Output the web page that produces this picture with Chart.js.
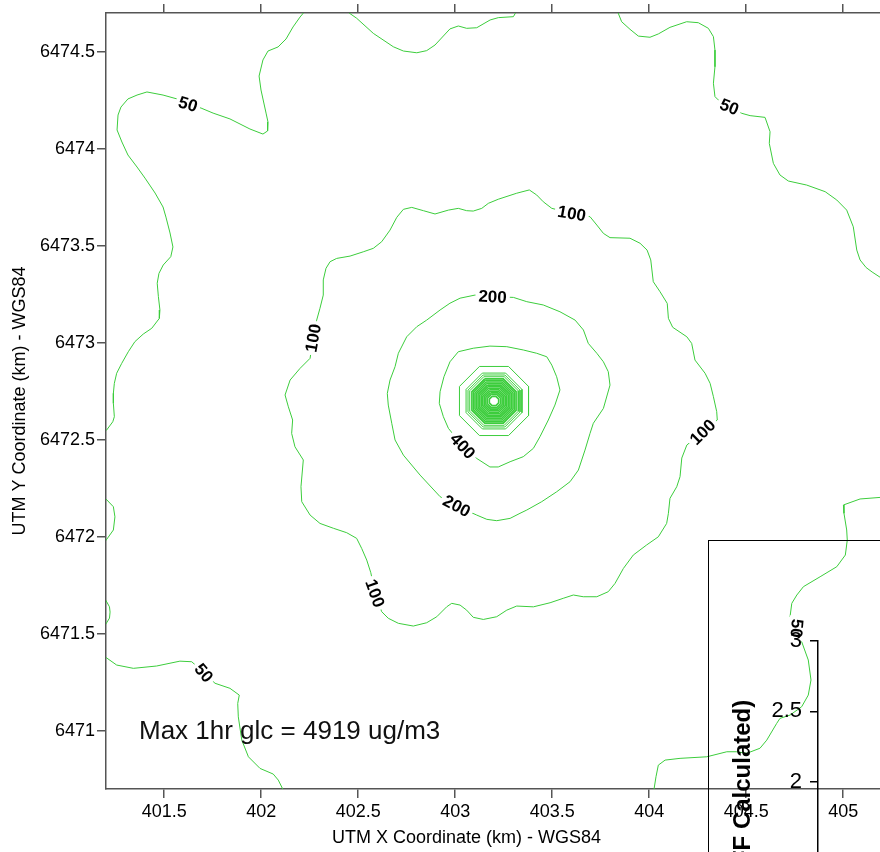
<!DOCTYPE html>
<html>
<head>
<meta charset="utf-8">
<script src="https://cdn.jsdelivr.net/npm/chart.js@4.4.1/dist/chart.umd.min.js"></script>
<style>
  html, body { margin: 0; padding: 0; background: #fff; overflow: hidden; }
  #wrap { position: relative; width: 880px; height: 852px; overflow: hidden; }
  #main { position: absolute; left: 0; top: 0; }
  #insetBox { position: absolute; left: 708px; top: 540px; width: 400px; height: 400px;
              border-left: 1.5px solid #000; border-top: 1.5px solid #000; }
  #inset { position: absolute; left: 708px; top: 540px; }
</style>
</head>
<body>
<div id="wrap">
  <canvas id="main" width="900" height="852"></canvas>
  <div id="insetBox"></div>
  <canvas id="inset" width="220" height="413"></canvas>
</div>
<script>
// axis ticks
const xTickValues = [401.5, 402, 402.5, 403, 403.5, 404, 404.5, 405];
const yTickValues = [6471, 6471.5, 6472, 6472.5, 6473, 6473.5, 6474, 6474.5];
const insetTickValues = [2, 2.5, 3];

// contour lines, UTM km [x, y]
const contour50a = [[402.226,6474.71],[402.200,6474.679],[402.164,6474.628],[402.128,6474.566],[402.087,6474.525],[402.035,6474.504],[402.009,6474.458],[401.989,6474.375],[401.999,6474.303],[402.025,6474.184],[402.035,6474.138],[402.033,6474.092],[402.009,6474.076],[401.942,6474.102],[401.839,6474.154],[401.752,6474.184],[401.690,6474.210],[401.623,6474.231],[401.566,6474.257],[401.494,6474.277],[401.411,6474.293],[401.360,6474.277],[401.313,6474.257],[401.277,6474.215],[401.262,6474.174],[401.257,6474.097],[401.282,6474.035],[401.313,6473.968],[401.360,6473.906],[401.401,6473.849],[401.453,6473.772],[401.494,6473.700],[401.509,6473.648],[401.530,6473.566],[401.545,6473.494],[401.534,6473.444],[401.495,6473.401],[401.473,6473.358],[401.464,6473.307],[401.470,6473.238],[401.478,6473.169],[401.475,6473.126],[401.436,6473.075],[401.392,6473.045],[401.349,6473.006],[401.315,6472.954],[401.281,6472.894],[401.255,6472.843],[401.243,6472.791],[401.238,6472.740],[401.238,6472.688],[401.243,6472.619],[401.235,6472.593],[401.203,6472.550],[401.190,6472.540]];
const contour50b = [[402.432,6474.715],[402.492,6474.673],[402.578,6474.595],[402.681,6474.526],[402.733,6474.504],[402.802,6474.495],[402.853,6474.506],[402.896,6474.535],[402.973,6474.618],[403.016,6474.633],[403.059,6474.621],[403.111,6474.624],[403.180,6474.664],[403.222,6474.676],[403.300,6474.681],[403.319,6474.715]];
const contour50c = [[403.834,6474.715],[403.858,6474.655],[403.901,6474.616],[403.944,6474.581],[404.004,6474.575],[404.047,6474.592],[404.107,6474.626],[404.193,6474.655],[404.253,6474.650],[404.305,6474.621],[404.331,6474.578],[404.339,6474.509],[404.339,6474.423],[404.331,6474.338],[404.339,6474.269],[404.356,6474.252],[404.413,6474.217],[404.477,6474.183],[404.520,6474.171],[404.597,6474.162],[404.623,6474.088],[404.619,6474.028],[404.640,6473.925],[404.674,6473.865],[404.717,6473.834],[404.812,6473.813],[404.907,6473.779],[404.967,6473.736],[405.018,6473.684],[405.052,6473.598],[405.070,6473.478],[405.087,6473.427],[405.118,6473.388],[405.149,6473.365],[405.190,6473.338],[405.242,6473.303]];
const contour50d = [[401.190,6471.385],[401.255,6471.339],[401.341,6471.322],[401.461,6471.334],[401.581,6471.359],[401.642,6471.356],[401.705,6471.299],[401.762,6471.245],[401.839,6471.219],[401.887,6471.184],[401.879,6471.141],[401.882,6471.072],[401.900,6470.952],[401.934,6470.866],[401.994,6470.806],[402.062,6470.777],[402.088,6470.746],[402.111,6470.700],[402.118,6470.684]];
const contour50e = [[405.242,6472.210],[405.190,6472.203],[405.087,6472.195],[405.001,6472.164],[405.004,6472.121],[405.018,6472.035],[405.021,6471.983],[405.011,6471.906],[404.967,6471.846],[404.881,6471.794],[404.795,6471.743],[404.761,6471.700],[404.735,6471.657],[404.726,6471.588],[404.761,6471.528],[404.786,6471.459],[404.820,6471.365],[404.834,6471.262],[404.820,6471.184],[404.786,6471.124],[404.726,6471.081],[404.674,6471.064],[404.657,6471.038],[404.606,6470.952],[404.571,6470.910],[404.503,6470.884],[404.451,6470.892],[404.400,6470.892],[404.297,6470.866],[404.159,6470.858],[404.082,6470.849],[404.047,6470.823],[404.035,6470.763],[404.025,6470.700],[404.023,6470.669]];
const contour50f = [[401.190,6472.205],[401.238,6472.155],[401.246,6472.103],[401.238,6472.035],[401.190,6471.968]];
const contour50g = [[401.190,6471.689],[401.218,6471.639],[401.221,6471.612],[401.218,6471.581],[401.190,6471.535]];
const contour100 = [[403.601,6473.667],[403.695,6473.650],[403.730,6473.607],[403.764,6473.564],[403.798,6473.542],[403.901,6473.539],[403.953,6473.513],[403.989,6473.478],[404.008,6473.427],[404.021,6473.315],[404.056,6473.263],[404.093,6473.203],[404.099,6473.126],[404.121,6473.080],[404.194,6473.031],[404.219,6472.997],[404.236,6472.911],[404.288,6472.843],[404.314,6472.791],[404.331,6472.722],[404.348,6472.645],[404.351,6472.602],[404.275,6472.540],[404.194,6472.473],[404.168,6472.406],[404.159,6472.310],[404.142,6472.258],[404.107,6472.198],[404.099,6472.121],[404.090,6472.069],[404.047,6472.000],[403.987,6471.958],[403.918,6471.906],[403.867,6471.837],[403.824,6471.760],[403.789,6471.717],[403.730,6471.691],[403.660,6471.691],[403.609,6471.700],[403.557,6471.683],[403.489,6471.660],[403.403,6471.639],[403.317,6471.643],[403.266,6471.622],[403.214,6471.588],[403.145,6471.574],[403.093,6471.585],[403.059,6471.622],[403.025,6471.648],[402.982,6471.657],[402.956,6471.639],[402.905,6471.588],[402.853,6471.557],[402.784,6471.540],[402.707,6471.554],[402.655,6471.580],[402.621,6471.614],[402.587,6471.709],[402.565,6471.815],[402.544,6471.880],[402.518,6471.940],[402.492,6471.992],[402.441,6472.021],[402.372,6472.044],[402.303,6472.069],[402.252,6472.112],[402.209,6472.181],[402.205,6472.258],[402.217,6472.396],[402.174,6472.464],[402.157,6472.533],[402.162,6472.602],[402.140,6472.670],[402.123,6472.731],[402.149,6472.808],[402.200,6472.868],[402.252,6472.920],[402.267,6473.025],[402.286,6473.117],[402.303,6473.178],[402.320,6473.246],[402.320,6473.324],[402.334,6473.384],[402.355,6473.418],[402.389,6473.435],[402.458,6473.447],[402.526,6473.469],[402.578,6473.487],[402.621,6473.521],[402.664,6473.581],[402.699,6473.647],[402.733,6473.688],[402.776,6473.698],[402.836,6473.681],[402.896,6473.664],[402.965,6473.684],[403.016,6473.693],[403.059,6473.681],[403.093,6473.679],[403.137,6473.693],[403.171,6473.719],[403.222,6473.740],[403.317,6473.771],[403.382,6473.788],[403.420,6473.762],[403.454,6473.727],[403.498,6473.693],[403.601,6473.667]];
const contour200 = [[403.193,6473.238],[403.300,6473.234],[403.369,6473.212],[403.454,6473.195],[403.540,6473.160],[403.618,6473.117],[403.661,6473.066],[403.686,6472.997],[403.730,6472.946],[403.764,6472.902],[403.789,6472.851],[403.798,6472.782],[403.764,6472.662],[403.712,6472.585],[403.695,6472.533],[403.669,6472.447],[403.635,6472.344],[403.592,6472.284],[403.523,6472.232],[403.446,6472.181],[403.369,6472.138],[403.334,6472.121],[403.283,6472.095],[403.214,6472.083],[403.163,6472.090],[403.111,6472.112],[403.008,6472.159],[402.922,6472.207],[402.819,6472.318],[402.733,6472.421],[402.690,6472.499],[402.673,6472.585],[402.655,6472.679],[402.650,6472.739],[402.664,6472.808],[402.690,6472.877],[402.707,6472.946],[402.750,6473.031],[402.802,6473.083],[402.853,6473.117],[402.922,6473.169],[402.973,6473.204],[403.025,6473.230],[403.102,6473.246],[403.193,6473.238]];
const contour400 = [[403.179,6472.983],[403.266,6472.980],[403.351,6472.963],[403.420,6472.946],[403.472,6472.928],[403.498,6472.885],[403.523,6472.825],[403.540,6472.757],[403.514,6472.679],[403.480,6472.602],[403.437,6472.516],[403.403,6472.456],[403.351,6472.413],[403.283,6472.387],[403.222,6472.360],[403.179,6472.360],[403.111,6472.404],[403.039,6472.468],[402.965,6472.559],[402.939,6472.619],[402.918,6472.688],[402.922,6472.748],[402.942,6472.825],[402.973,6472.902],[403.016,6472.954],[403.093,6472.972],[403.179,6472.983]];
// higher levels close to the source (octagonal rings)
const sourceRings = [
  [[403.125,6472.878],[403.275,6472.878],[403.378,6472.775],[403.378,6472.625],[403.275,6472.522],[403.125,6472.522],[403.022,6472.625],[403.022,6472.775],[403.125,6472.878]],
  [[403.140,6472.844],[403.260,6472.844],[403.344,6472.760],[403.344,6472.640],[403.260,6472.556],[403.140,6472.556],[403.056,6472.640],[403.056,6472.760],[403.140,6472.844]],
  [[403.144,6472.834],[403.256,6472.834],[403.334,6472.756],[403.334,6472.644],[403.256,6472.566],[403.144,6472.566],[403.066,6472.644],[403.066,6472.756],[403.144,6472.834]],
  [[403.147,6472.825],[403.253,6472.825],[403.325,6472.753],[403.325,6472.647],[403.253,6472.575],[403.147,6472.575],[403.075,6472.647],[403.075,6472.753],[403.147,6472.825]],
  [[403.152,6472.814],[403.248,6472.814],[403.314,6472.748],[403.314,6472.652],[403.248,6472.586],[403.152,6472.586],[403.086,6472.652],[403.086,6472.748],[403.152,6472.814]],
  [[403.155,6472.806],[403.245,6472.806],[403.306,6472.745],[403.306,6472.655],[403.245,6472.594],[403.155,6472.594],[403.094,6472.655],[403.094,6472.745],[403.155,6472.806]],
  [[403.159,6472.798],[403.241,6472.798],[403.298,6472.741],[403.298,6472.659],[403.241,6472.602],[403.159,6472.602],[403.102,6472.659],[403.102,6472.741],[403.159,6472.798]],
  [[403.162,6472.790],[403.238,6472.790],[403.290,6472.738],[403.290,6472.662],[403.238,6472.610],[403.162,6472.610],[403.110,6472.662],[403.110,6472.738],[403.162,6472.790]],
  [[403.166,6472.782],[403.234,6472.782],[403.282,6472.734],[403.282,6472.666],[403.234,6472.618],[403.166,6472.618],[403.118,6472.666],[403.118,6472.734],[403.166,6472.782]],
  [[403.169,6472.774],[403.231,6472.774],[403.274,6472.731],[403.274,6472.669],[403.231,6472.626],[403.169,6472.626],[403.126,6472.669],[403.126,6472.731],[403.169,6472.774]],
  [[403.172,6472.766],[403.228,6472.766],[403.266,6472.728],[403.266,6472.672],[403.228,6472.634],[403.172,6472.634],[403.134,6472.672],[403.134,6472.728],[403.172,6472.766]],
  [[403.176,6472.758],[403.224,6472.758],[403.258,6472.724],[403.258,6472.676],[403.224,6472.642],[403.176,6472.642],[403.142,6472.676],[403.142,6472.724],[403.176,6472.758]],
  [[403.179,6472.750],[403.221,6472.750],[403.250,6472.721],[403.250,6472.679],[403.221,6472.650],[403.179,6472.650],[403.150,6472.679],[403.150,6472.721],[403.179,6472.750]],
  [[403.182,6472.742],[403.218,6472.742],[403.242,6472.718],[403.242,6472.682],[403.218,6472.658],[403.182,6472.658],[403.158,6472.682],[403.158,6472.718],[403.182,6472.742]],
  [[403.186,6472.734],[403.214,6472.734],[403.234,6472.714],[403.234,6472.686],[403.214,6472.666],[403.186,6472.666],[403.166,6472.686],[403.166,6472.714],[403.186,6472.734]],
  [[403.190,6472.724],[403.210,6472.724],[403.224,6472.710],[403.224,6472.690],[403.210,6472.676],[403.190,6472.676],[403.176,6472.690],[403.176,6472.710],[403.190,6472.724]]
];

// contour labels
const labelText = ['50', '50', '50', '50', '100', '100', '100', '100', '200', '200', '400'];
const labelX = [401.623, 404.413, 401.705, 404.761, 403.601, 402.267, 404.275, 402.587, 403.193, 403.008, 403.039];
const labelY = [6474.231, 6474.217, 6471.299, 6471.528, 6473.667, 6473.025, 6472.540, 6471.709, 6473.238, 6472.159, 6472.468];
const labelAngle = [17, 22, 50, 95, 10, -80, -45, 70, 3, 28, 47];

const noteText = 'Max 1hr glc = 4919 ug/m3';
const noteX = 401.37, noteY = 6470.957;
const xTitle = 'UTM X Coordinate (km) - WGS84';
const yTitle = 'UTM Y Coordinate (km) - WGS84';

const GREEN = 'rgb(60,205,60)';
const FONT = '"Liberation Sans", Arial, sans-serif';
Chart.defaults.font.family = FONT;
Chart.defaults.color = '#000';

function lineSet(pts, width) {
  return {
    data: pts.map(p => ({ x: p[0], y: p[1] })),
    showLine: true, pointRadius: 0, borderColor: GREEN, borderWidth: width || 1, tension: 0, fill: false
  };
}

const datasets = [contour50a, contour50b, contour50c, contour50d, contour50e, contour50f, contour50g,
                  contour100, contour200, contour400].map(p => lineSet(p, 1))
  .concat(sourceRings.map((r, i) => lineSet(r, i < 4 ? 1 : 1.6)));

const labelsPlugin = {
  id: 'contourLabels',
  afterDatasetsDraw(chart) {
    const { ctx, chartArea } = chart;
    const xs = chart.scales.x, ys = chart.scales.y;
    ctx.save();
    ctx.font = 'bold 17px ' + FONT;
    ctx.textAlign = 'center';
    ctx.textBaseline = 'middle';
    labelText.forEach((t, i) => {
      ctx.save();
      ctx.translate(xs.getPixelForValue(labelX[i]), ys.getPixelForValue(labelY[i]));
      ctx.rotate(labelAngle[i] * Math.PI / 180);
      const w = ctx.measureText(t).width;
      ctx.fillStyle = '#fff';
      ctx.fillRect(-w / 2 - 3, -8, w + 6, 16);
      ctx.fillStyle = '#000';
      ctx.fillText(t, 0, 1);
      ctx.restore();
    });
    ctx.font = '26px ' + FONT;
    ctx.textAlign = 'left';
    ctx.textBaseline = 'alphabetic';
    ctx.fillStyle = '#111';
    ctx.fillText(noteText, xs.getPixelForValue(noteX), ys.getPixelForValue(noteY));
    // x axis title, drawn left of the plot centre as in the source
    ctx.font = '18px ' + FONT;
    ctx.textBaseline = 'middle';
    ctx.fillStyle = '#000';
    ctx.fillText(xTitle, 332, chartArea.bottom + 49);
    ctx.restore();
  }
};

const tickGrid = { display: true, drawOnChartArea: false, drawTicks: true, tickLength: 9, color: '#555', lineWidth: 1.5 };
const axisBorder = { display: true, color: '#555', width: 1.5 };
const setTicks = vals => scale => { scale.ticks = vals.map(v => ({ value: v })); };

new Chart(document.getElementById('main'), {
  type: 'scatter',
  data: { datasets },
  options: {
    responsive: false,
    animation: false,
    layout: { padding: { left: 0, top: 0, right: 18, bottom: 0 } },
    plugins: { legend: { display: false }, tooltip: { enabled: false } },
    scales: {
      x: {
        type: 'linear', position: 'bottom', min: 401.2, max: 405.2,
        afterBuildTicks: setTicks(xTickValues),
        afterFit: s => { s.height = 63; },
        grid: tickGrid, border: axisBorder,
        ticks: { font: { size: 18 }, color: '#000', padding: 3, maxRotation: 0, autoSkip: false, callback: v => String(v) },
        title: { display: false }
      },
      x2: {
        type: 'linear', position: 'top', min: 401.2, max: 405.2,
        afterBuildTicks: setTicks(xTickValues),
        afterFit: s => { s.height = 13; },
        grid: tickGrid, border: axisBorder,
        ticks: { display: false }
      },
      y: {
        type: 'linear', position: 'left', min: 6470.7, max: 6474.7,
        afterBuildTicks: setTicks(yTickValues),
        afterFit: s => { s.width = 106; },
        grid: tickGrid, border: axisBorder,
        ticks: { font: { size: 18 }, color: '#000', padding: 2, autoSkip: false, callback: v => String(v) },
        title: { display: true, text: yTitle, color: '#000', font: { size: 18 }, padding: { top: 9, bottom: 0 } }
      }
    }
  },
  plugins: [labelsPlugin]
});

// overlapping inset axis
new Chart(document.getElementById('inset'), {
  type: 'scatter',
  data: { datasets: [] },
  options: {
    responsive: false,
    animation: false,
    layout: { padding: { left: 0, top: 101, right: 0, bottom: 0 } },
    plugins: { legend: { display: false }, tooltip: { enabled: false } },
    scales: {
      x: { display: false, min: 0, max: 1 },
      y: {
        type: 'linear', position: 'left', min: 0.934, max: 3,
        afterBuildTicks: setTicks(insetTickValues),
        afterFit: s => { s.width = 110; },
        grid: { display: true, drawOnChartArea: false, drawTicks: true, tickLength: 8, color: '#000', lineWidth: 1.5 },
        border: { display: true, color: '#000', width: 1.5 },
        ticks: { font: { size: 22 }, color: '#000', padding: 8, autoSkip: false, callback: v => String(v) },
        title: { display: true, text: '(FF Calculated)', color: '#000', font: { size: 24, weight: 'bold' }, padding: { top: 21, bottom: 0 } }
      }
    }
  }
});
</script>
</body>
</html>
